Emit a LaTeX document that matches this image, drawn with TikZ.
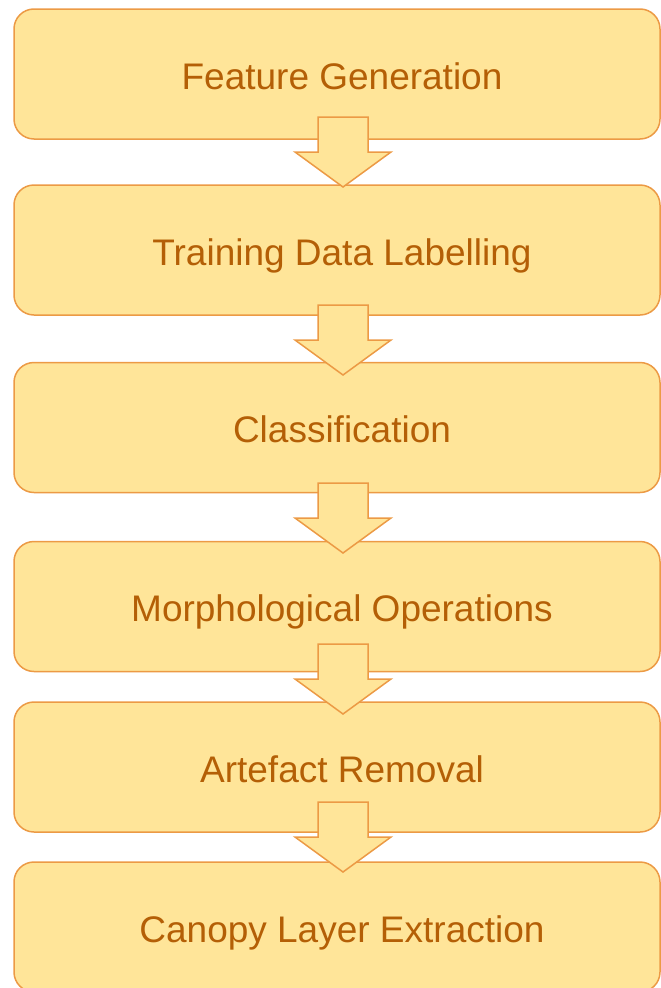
\documentclass[tikz,border=0pt]{standalone}
\usepackage{fontspec}
\setmainfont{Liberation Sans}
\definecolor{boxfill}{HTML}{FFE599}
\definecolor{boxline}{HTML}{EC9A45}
\definecolor{boxtext}{HTML}{B45F06}
\newcommand\boxlabel[1]{\hspace*{10pt}#1}
\tikzset{
  stepbox/.style={draw=boxline, fill=boxfill, line width=1.5pt, rounded corners=20pt,
    minimum width=646pt, minimum height=130pt, inner sep=0pt, text=boxtext,
    text height=30pt, text depth=0pt,
    font=\fontsize{37}{44}\selectfont},
  blockarrow/.style={draw=boxline, fill=boxfill, line width=1.5pt, line join=miter}
}
\newcommand\myarrow[2]{% #1 = centre x, #2 = shaft top y
  \draw[blockarrow] (#1-25,#2) -- (#1+25,#2) -- (#1+25,#2+35) -- (#1+48,#2+35)
    -- (#1,#2+70) -- (#1-48,#2+35) -- (#1-25,#2+35) -- cycle;}
\begin{document}
\begin{tikzpicture}[x=1pt,y=-1pt]
\useasboundingbox (0,0) rectangle (661,988);
\node[stepbox] (b1) at (337,74)  {\boxlabel{Feature Generation}};
\node[stepbox] (b2) at (337,250) {\boxlabel{Training Data Labelling}};
\node[stepbox] (b3) at (337,427.5) {\boxlabel{Classification}};
\node[stepbox] (b4) at (337,606.5) {\boxlabel{Morphological Operations}};
\node[stepbox] (b5) at (337,767) {\boxlabel{Artefact Removal}};
\node[stepbox] (b6) at (337,927) {\boxlabel{Canopy Layer Extraction}};
\myarrow{343}{117}
\myarrow{343}{305}
\myarrow{343}{483}
\myarrow{343}{644}
\myarrow{343}{802}
\end{tikzpicture}
\end{document}
